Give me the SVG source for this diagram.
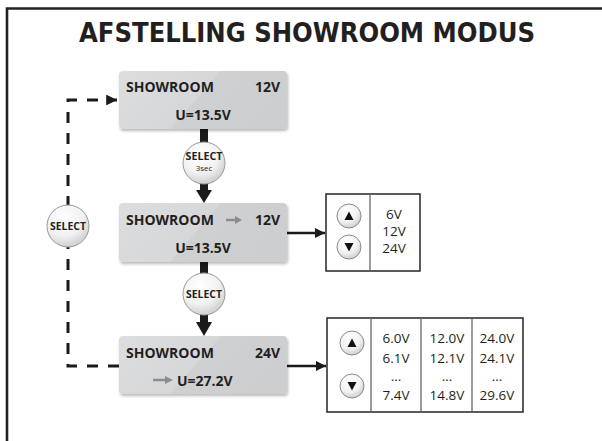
<svg xmlns="http://www.w3.org/2000/svg" width="602" height="441" viewBox="0 0 602 441">
<defs>
<linearGradient id="boxg" x1="0" y1="0" x2="1" y2="0.3">
<stop offset="0" stop-color="#dcdddf"/>
<stop offset="0.55" stop-color="#d6d7d9"/>
<stop offset="0.56" stop-color="#cfd0d2"/>
<stop offset="1" stop-color="#cdced0"/>
</linearGradient>
<radialGradient id="btng" cx="0.4" cy="0.3" r="0.75">
<stop offset="0" stop-color="#ffffff"/>
<stop offset="0.6" stop-color="#f1f1f1"/>
<stop offset="1" stop-color="#c9c9c9"/>
</radialGradient>
<filter id="sh" x="-10%" y="-10%" width="125%" height="135%">
<feDropShadow dx="1" dy="2" stdDeviation="1.8" flood-color="#000" flood-opacity="0.28"/>
</filter>
<marker id="ah" viewBox="0 0 10 10" refX="10" refY="5" markerWidth="4" markerHeight="4" orient="auto" markerUnits="strokeWidth">
<path d="M0,0 L10,5 L0,10 z" fill="#1a1a1a"/>
</marker>
<marker id="ahd" viewBox="0 0 10 10" refX="10" refY="5" markerWidth="3.6" markerHeight="3.6" orient="auto" markerUnits="strokeWidth">
<path d="M0,0 L10,5 L0,10 z" fill="#1a1a1a"/>
</marker>
</defs>
<style>
.box{fill:url(#boxg);filter:url(#sh)}
.bt{font-family:"Open Sans","Liberation Sans",sans-serif;font-weight:700;font-size:14px;fill:#231f20}
.sel{fill:url(#btng);stroke:#9a9a9a;stroke-width:1}
.selt{font-family:"Open Sans","Liberation Sans",sans-serif;font-weight:700;font-size:11px;fill:#231f20;text-anchor:middle}
.small{font-family:"Open Sans","Liberation Sans",sans-serif;font-size:8px;fill:#231f20;text-anchor:middle}
.tt{font-family:"Open Sans","Liberation Sans",sans-serif;font-size:13.5px;fill:#231f20;text-anchor:middle}
.tbl{fill:#fff;stroke:#333;stroke-width:1.6}
.div{stroke:#666;stroke-width:1.3}
.btn{fill:url(#btng);stroke:#8a8a8a;stroke-width:1}
.conn{stroke:#1a1a1a;stroke-width:2.5;fill:none}
.dash{stroke:#1a1a1a;stroke-width:3;fill:none;stroke-dasharray:11 10}
.thick{fill:#1a1a1a}
.garr{stroke:#8c8c8c;stroke-width:2.5;fill:none}
.garrh{fill:#8c8c8c}
</style>
<rect width="602" height="441" fill="#fff"/>
<g id="frame">
<path d="M7,441 V8.5 H602" fill="none" stroke="#222" stroke-width="2.6"/>
</g>
<g id="title">
<text x="307" y="42" font-family="'DejaVu Sans','Liberation Sans',sans-serif" font-weight="bold" font-size="27" fill="#231f20" text-anchor="middle" textLength="456" lengthAdjust="spacingAndGlyphs">AFSTELLING SHOWROOM MODUS</text>
</g>
<g id="connectors">
<path class="dash" d="M119,366 H68 V100 H117" marker-end="url(#ahd)"/>
<rect class="thick" x="200" y="128" width="8" height="16"/>
<rect class="thick" x="200" y="182" width="8" height="10"/>
<path class="thick" d="M196,190 H212 L204,203 z"/>
<rect class="thick" x="200" y="261" width="8" height="14"/>
<rect class="thick" x="200" y="313" width="8" height="10"/>
<path class="thick" d="M196,322 H212 L204,336 z"/>
<path class="conn" d="M287,233 H325" marker-end="url(#ah)"/>
<path class="conn" d="M287,366 H326" marker-end="url(#ah)"/>
</g>
<g id="box1">
<rect class="box" x="119" y="71" width="168" height="58" rx="4"/>
<text class="bt" x="126" y="92">SHOWROOM</text>
<text class="bt" x="280" y="92" text-anchor="end">12V</text>
<text class="bt" x="203" y="120" text-anchor="middle">U=13.5V</text>
</g>
<g id="box2">
<rect class="box" x="119" y="203" width="168" height="59" rx="4"/>
<text class="bt" x="126" y="225">SHOWROOM</text>
<path class="garr" d="M226,220 H237"/>
<path class="garrh" d="M235,216 L242,220 L235,224 z"/>
<text class="bt" x="280" y="225" text-anchor="end">12V</text>
<text class="bt" x="203" y="253" text-anchor="middle">U=13.5V</text>
</g>
<g id="box3">
<rect class="box" x="119" y="336" width="168" height="58" rx="4"/>
<text class="bt" x="126" y="358">SHOWROOM</text>
<text class="bt" x="280" y="358" text-anchor="end">24V</text>
<path class="garr" d="M153,380 H167"/>
<path class="garrh" d="M165,376 L173,380 L165,384 z"/>
<text class="bt" x="177" y="386">U=27.2V</text>
</g>
<g id="select1">
<circle class="sel" cx="204" cy="163" r="21"/>
<text class="selt" x="204" y="160" textLength="37" lengthAdjust="spacingAndGlyphs">SELECT</text>
<text class="small" x="204" y="171">3sec</text>
</g>
<g id="select2">
<circle class="sel" cx="204" cy="294" r="21"/>
<text class="selt" x="204" y="298" textLength="36" lengthAdjust="spacingAndGlyphs">SELECT</text>
</g>
<g id="select3">
<circle class="sel" cx="68" cy="226" r="21"/>
<text class="selt" x="68" y="230" textLength="36" lengthAdjust="spacingAndGlyphs">SELECT</text>
</g>
<g id="table1">
<rect class="tbl" x="326" y="194" width="94" height="77"/>
<line class="div" x1="370" y1="194" x2="370" y2="271"/>
<circle class="btn" cx="349" cy="216" r="12"/>
<path d="M344.5,220 L349,211.5 L353.5,220 z" fill="#111"/>
<circle class="btn" cx="349" cy="247" r="12"/>
<path d="M344.5,243 L349,251.5 L353.5,243 z" fill="#111"/>
<text class="tt" x="394" y="219">6V</text>
<text class="tt" x="394" y="236">12V</text>
<text class="tt" x="394" y="253">24V</text>
</g>
<g id="table2">
<rect class="tbl" x="327" y="318" width="196" height="94"/>
<line class="div" x1="371" y1="318" x2="371" y2="412"/>
<line class="div" x1="421" y1="318" x2="421" y2="412"/>
<line class="div" x1="472" y1="318" x2="472" y2="412"/>
<circle class="btn" cx="352" cy="343" r="12"/>
<path d="M347.5,347 L352,338.5 L356.5,347 z" fill="#111"/>
<circle class="btn" cx="352" cy="386" r="12"/>
<path d="M347.5,382 L352,390.5 L356.5,382 z" fill="#111"/>
<text class="tt" x="396" y="343">6.0V</text>
<text class="tt" x="396" y="363">6.1V</text>
<text class="tt" x="396" y="381" font-size="9">...</text>
<text class="tt" x="396" y="400">7.4V</text>
<text class="tt" x="447" y="343">12.0V</text>
<text class="tt" x="447" y="363">12.1V</text>
<text class="tt" x="447" y="381" font-size="9">...</text>
<text class="tt" x="447" y="400">14.8V</text>
<text class="tt" x="497" y="343">24.0V</text>
<text class="tt" x="497" y="363">24.1V</text>
<text class="tt" x="497" y="381" font-size="9">...</text>
<text class="tt" x="497" y="400">29.6V</text>
</g>
</svg>
